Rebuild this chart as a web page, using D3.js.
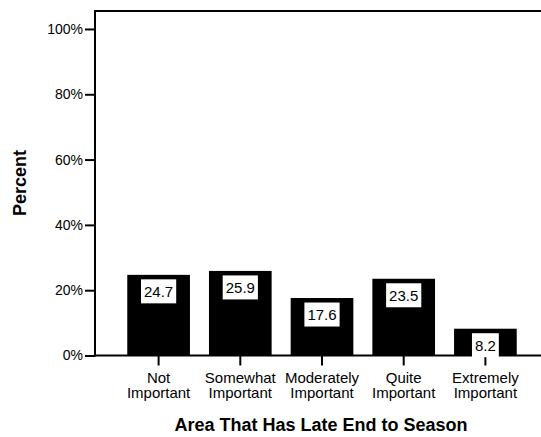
<!DOCTYPE html>
<html lang="en">
<head>
  <meta charset="UTF-8">
  <title>Area That Has Late End to Season</title>
  <script src="https://d3js.org/d3.v7.min.js"></script>
  <style>
    body { margin: 0; background: #fff; }
    text { font-family: "Liberation Sans", Arial, sans-serif; fill: #000; }
    .axis-title { font-weight: bold; font-size: 18px; }
  </style>
</head>
<body>
  <svg width="541" height="437"></svg>

  <script>
    // data
    const categories = [
      ["Not", "Important"],
      ["Somewhat", "Important"],
      ["Moderately", "Important"],
      ["Quite", "Important"],
      ["Extremely", "Important"]
    ];
    const percents = [24.7, 25.9, 17.6, 23.5, 8.2];
    const yTicks = [0, 20, 40, 60, 80, 100];

    const data = categories.map((c, i) => ({ key: c.join(" "), lines: c, value: percents[i] }));

    const svg = d3.select("svg");

    // plot area (frame runs off the right edge, like the original)
    const plotLeft = 95, plotTop = 11, plotBottom = 355.5, plotRight = 549;

    const y = d3.scaleLinear().domain([0, 105.5]).range([plotBottom, plotTop]);
    const x = d3.scaleBand()
      .domain(data.map(d => d.key))
      .range([plotLeft, plotRight])
      .paddingInner(0.233)
      .paddingOuter(0.395);

    // bars
    svg.selectAll(".bar")
      .data(data)
      .enter().append("rect")
      .attr("class", "bar")
      .attr("x", d => x(d.key))
      .attr("y", d => y(d.value))
      .attr("width", x.bandwidth())
      .attr("height", d => y(0) - y(d.value))
      .attr("fill", "#000");

    // frame: top line
    svg.append("line")
      .attr("x1", plotLeft).attr("x2", 541)
      .attr("y1", plotTop).attr("y2", plotTop)
      .attr("stroke", "#000").attr("stroke-width", 2);

    // y axis
    const yAxis = d3.axisLeft(y)
      .tickValues(yTicks)
      .tickFormat(d => d + "%")
      .tickSize(10)
      .tickPadding(2);

    const gy = svg.append("g")
      .attr("transform", `translate(${plotLeft},0)`)
      .call(yAxis);
    gy.select(".domain").remove();
    gy.selectAll(".tick line").attr("stroke", "#000").attr("stroke-width", 2);
    gy.selectAll(".tick text").style("font-size", "14px").attr("fill", "#000");
    gy.append("line")
      .attr("x1", 0).attr("x2", 0)
      .attr("y1", plotTop - 1).attr("y2", plotBottom + 1)
      .attr("stroke", "#000").attr("stroke-width", 2);

    // x axis
    const xAxis = d3.axisBottom(x).tickSize(10).tickFormat("");
    const gx = svg.append("g")
      .attr("transform", `translate(0,${plotBottom})`)
      .call(xAxis);
    gx.select(".domain").remove();
    gx.selectAll(".tick line").attr("stroke", "#000").attr("stroke-width", 2);
    gx.append("line")
      .attr("x1", plotLeft).attr("x2", 541)
      .attr("y1", 0).attr("y2", 0)
      .attr("stroke", "#000").attr("stroke-width", 2);

    // category labels, two lines each
    const lab = svg.selectAll(".cat")
      .data(data)
      .enter().append("text")
      .attr("class", "cat")
      .attr("text-anchor", "middle")
      .style("font-size", "15px");
    lab.selectAll("tspan")
      .data(d => d.lines.map(l => ({ l, k: d.key })))
      .enter().append("tspan")
      .attr("x", d => x(d.k) + x.bandwidth() / 2)
      .attr("y", (d, i) => 382.5 + i * 15.7)
      .text(d => d.l);

    // value labels in white boxes
    const vl = svg.selectAll(".val")
      .data(data)
      .enter().append("g")
      .attr("class", "val")
      .attr("transform", d => `translate(${x(d.key) + x.bandwidth() / 2},${y(d.value) + 16.5})`);
    vl.append("text")
      .attr("text-anchor", "middle")
      .attr("dy", "0.36em")
      .style("font-size", "15px")
      .text(d => d.value.toFixed(1));
    vl.each(function() {
      const g = d3.select(this);
      const bb = g.select("text").node().getBBox();
      g.insert("rect", "text")
        .attr("x", bb.x - 3)
        .attr("y", -12)
        .attr("width", bb.width + 6)
        .attr("height", 24)
        .attr("fill", "#fff");
    });

    // axis titles
    svg.append("text")
      .attr("class", "axis-title")
      .attr("text-anchor", "middle")
      .attr("x", 321)
      .attr("y", 431)
      .text("Area That Has Late End to Season");

    svg.append("text")
      .attr("class", "axis-title")
      .attr("text-anchor", "middle")
      .attr("transform", "translate(26,183) rotate(-90)")
      .text("Percent");
  </script>
</body>
</html>
